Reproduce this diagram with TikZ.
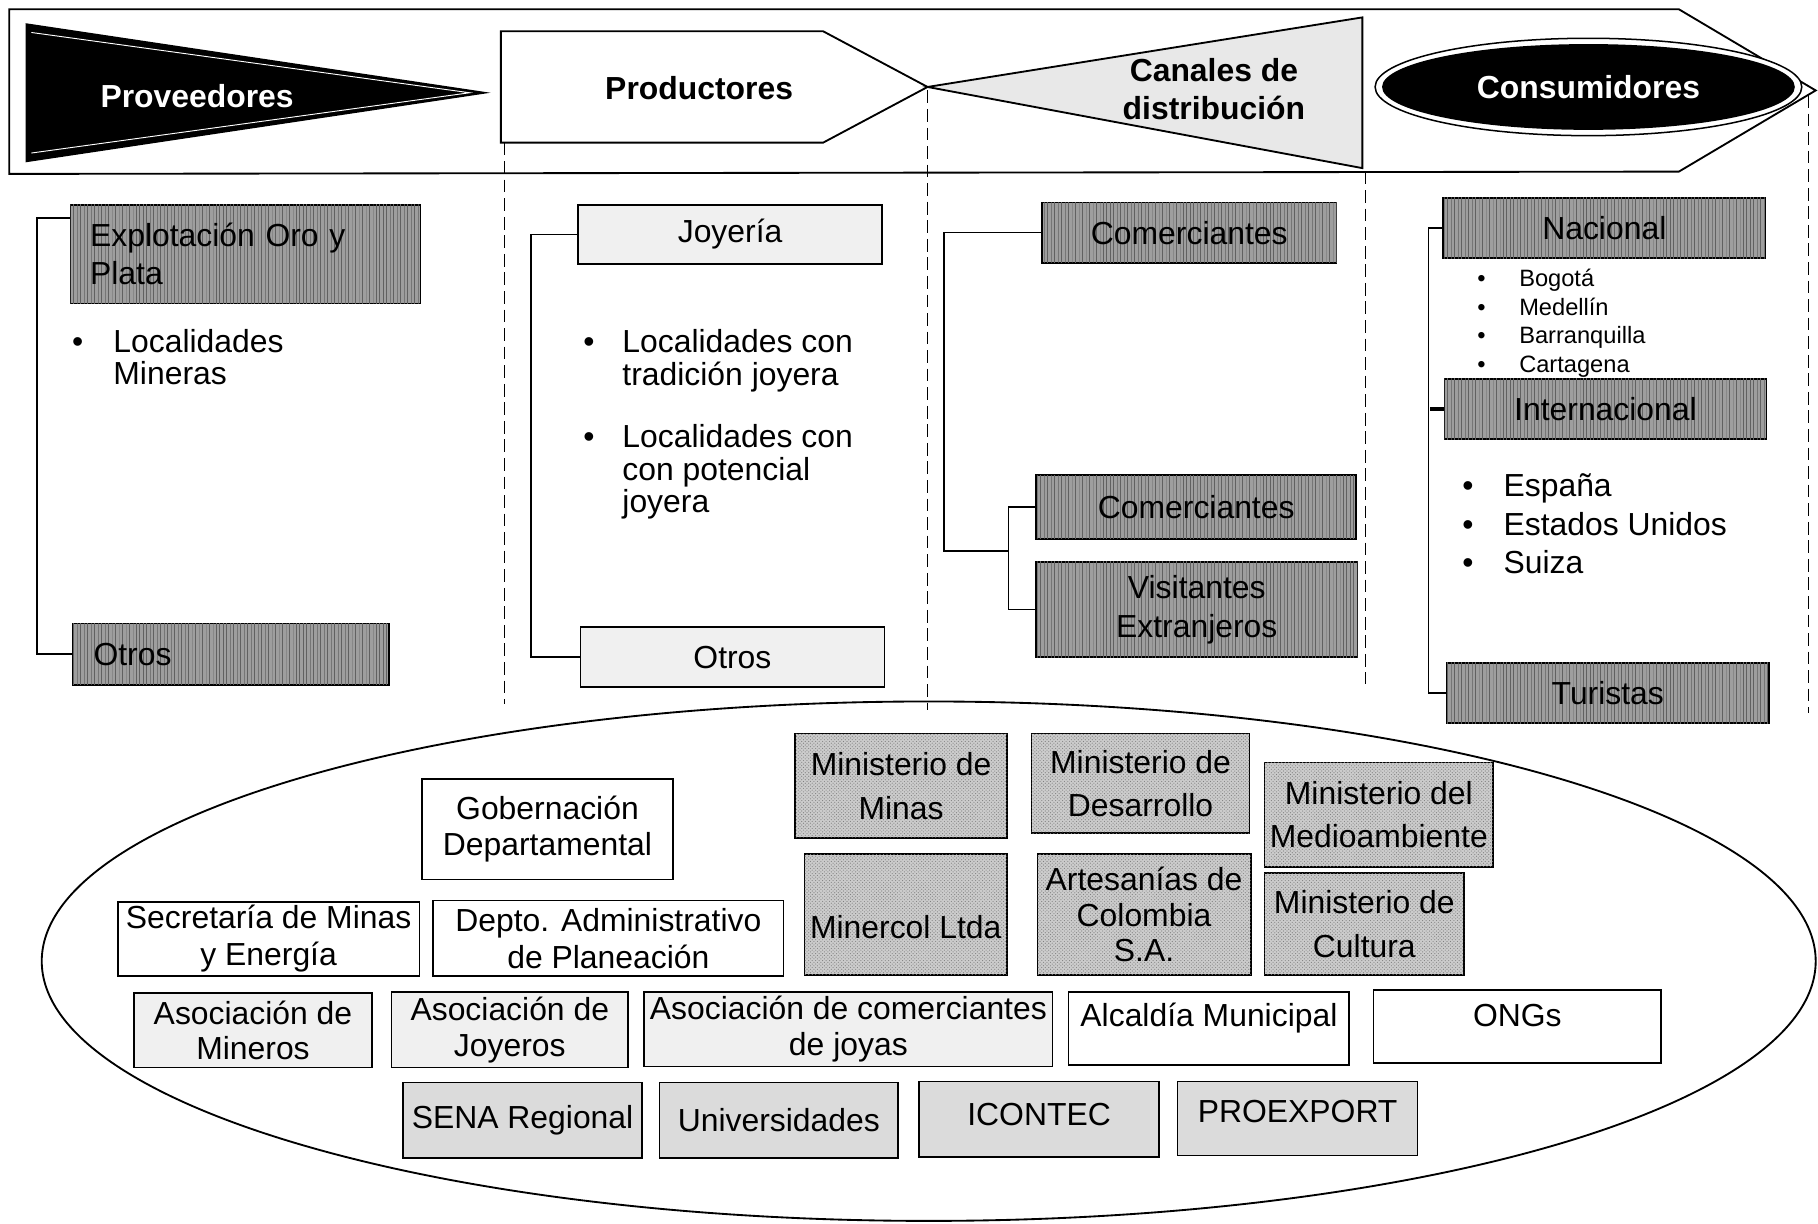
\documentclass[tikz,border=0pt]{standalone}
\usepackage{fontspec}
\setmainfont{Liberation Sans}
\usetikzlibrary{patterns,calc}
\begin{document}
\begin{tikzpicture}[x=1pt,y=-1pt,
  every node/.style={font=\fontsize{27.5}{31}\selectfont, inner sep=0pt},
  bx/.style={draw, line width=1.4pt, anchor=north west, align=center},
  dark/.style={bx, fill=black!38, postaction={pattern=vertical lines, pattern color=black!62}},
  light/.style={bx, fill=black!6},
  mid/.style={bx, fill=black!14},
  chk/.style={bx, fill=black!20, postaction={pattern=crosshatch dots, pattern color=black!50}},
  wht/.style={bx, fill=white},
  conn/.style={line width=1.3pt},
  sepline/.style={line width=1.1pt, dash pattern=on 11pt off 5pt},
  hdr/.style={font=\fontsize{27.5}{33}\selectfont\bfseries, align=center},
]
\useasboundingbox (0,0) rectangle (1568,1055);

% ---------- header band ----------
\draw[line width=1.6pt] (8,8) -- (1448,8) -- (1566,78) -- (1448,148) -- (8,150) -- cycle;
% Proveedores
\fill (22,20) -- (423,80) -- (22,140) -- cycle;
\draw[white, line width=0.8pt] (27,28) -- (405,80) -- (27,132);
% Productores
\draw[line width=1.6pt, fill=white] (432,27) -- (710,27) -- (800,75) -- (710,123) -- (432,123) -- cycle;
% Canales
\draw[line width=1.6pt, fill=black!9] (800,75) -- (1175,15) -- (1175,145) -- cycle;
% Consumidores
\draw[line width=1.3pt, fill=white] (1370,75) ellipse (184 and 42);
\fill (1370,75) ellipse (178 and 37);

\node[hdr, text=white] (prov) at (170,83) {Proveedores};
\node[hdr, text=white] (cons) at (1370,75) {Consumidores};
\node[hdr] (prod) at (603,76) {Productores};
\node[hdr] (canal) at (1047,77) {Canales de\\distribución};

% ---------- separators ----------
\draw[sepline] (435,123) -- (435,607);
\draw[sepline] (800,78) -- (800,612);
\draw[sepline] (1178,148) -- (1178,590);
\draw[sepline] (1560,82) -- (1560,615);

% ---------- column 1 ----------
\node[dark, minimum width=302pt, minimum height=85pt, text width=268pt, align=left,
      font=\fontsize{27.5}{33}\selectfont] (expl) at (60,176) {Explotación Oro y\\Plata};
\node[dark, minimum width=273pt, minimum height=53pt, text width=237pt, align=left] (ot1) at (62,537) {Otros};
\node[anchor=base west, font=\fontsize{27.5}{27}\selectfont] (lm) at (62,304)
  {\begin{tabular}[t]{@{}l@{\hspace{26pt}}l@{}}•&Localidades\\&Mineras\end{tabular}};
\draw[conn] ($(expl.north west)+(0,12)$) -- ++(-28,0) |- (ot1.west);

% ---------- column 2 ----------
\node[light, minimum width=262pt, minimum height=51pt] (joy) at (498,176) {Joyería};
\node[light, minimum width=262pt, minimum height=52pt] (ot2) at (500,540) {Otros};
\node[anchor=base west, font=\fontsize{27.5}{27}\selectfont] (lj) at (503,304)
  {\begin{tabular}[t]{@{}l@{\hspace{24pt}}l@{}}•&Localidades con\\&tradición joyera\\[26pt]
   •&Localidades con\\&con potencial\\&joyera\end{tabular}};
\draw[conn] (joy.west) -- ++(-40,0) |- (ot2.west);

% ---------- column 3 ----------
\node[dark, minimum width=254pt, minimum height=52pt] (com1) at (898,174) {Comerciantes};
\node[dark, minimum width=276pt, minimum height=55pt] (com2) at (893,409) {Comerciantes};
\node[dark, minimum width=277pt, minimum height=82pt, font=\fontsize{27.5}{34}\selectfont] (vis) at (893,484) {Visitantes\\Extranjeros};
\coordinate (j3) at ($(com2.west)!0.43!(vis.west)+(-23,0)$);
\draw[conn] (com2.west) -- ++(-23,0) |- (vis.west);
\draw[conn] (com1.west) -- ++(-84,0) |- (j3);

% ---------- column 4 ----------
\node[dark, minimum width=278pt, minimum height=52pt] (nac) at (1244,170) {Nacional};
\node[dark, minimum width=278pt, minimum height=52pt] (int) at (1245,326) {Internacional};
\node[dark, minimum width=278pt, minimum height=52pt] (tur) at (1247,571) {Turistas};
\node[anchor=base west, font=\fontsize{20.4}{24.7}\selectfont] (ln) at (1274,247)
  {\begin{tabular}[t]{@{}l@{\hspace{29pt}}l@{}}•&Bogotá\\•&Medellín\\•&Barranquilla\\•&Cartagena\end{tabular}};
\node[anchor=base west, font=\fontsize{27.5}{33.5}\selectfont] (li) at (1261,428)
  {\begin{tabular}[t]{@{}l@{\hspace{26pt}}l@{}}•&España\\•&Estados Unidos\\•&Suiza\end{tabular}};
\draw[conn] (nac.west) -- ++(-12,0) |- (tur.west);
\draw[line width=3.5pt] (int.west) -- ++(-12,0);

% ---------- institutions ellipse ----------
\draw[line width=1.6pt] (801,829) ellipse (765 and 224);

\node[chk, minimum width=183pt, minimum height=90pt, font=\fontsize{27.5}{38}\selectfont] (minmin) at (685,632) {Ministerio de\\Minas};
\node[chk, minimum width=188pt, minimum height=86pt, font=\fontsize{27.5}{37}\selectfont] (mindes) at (889,632) {Ministerio de\\Desarrollo};
\node[chk, minimum width=197pt, minimum height=90pt, font=\fontsize{27.5}{37}\selectfont] (minmed) at (1090,657) {Ministerio del\\Medioambiente};
\node[wht, minimum width=217pt, minimum height=87pt] (gob) at (363,671) {Gobernación\\Departamental};
\node[chk, minimum width=175pt, minimum height=104pt, text height=42pt, text depth=0pt] (mincol) at (693,736) {Minercol Ltda};
\node[chk, minimum width=184pt, minimum height=104pt] (art) at (894,736) {Artesanías de\\Colombia\\S.A.};
\node[chk, minimum width=172pt, minimum height=88pt, font=\fontsize{27.5}{38}\selectfont] (mincul) at (1090,752) {Ministerio de\\Cultura};
\node[wht, minimum width=260pt, minimum height=64pt, font=\fontsize{27.5}{32}\selectfont] (sec) at (101,777) {Secretaría de Minas\\y Energía};
\node[wht, minimum width=302pt, minimum height=65pt, font=\fontsize{27.5}{32}\selectfont] (depto) at (373,776) {Depto. Administrativo\\de Planeación};
\node[light, minimum width=205pt, minimum height=64pt] (asm) at (115,856) {Asociación de\\Mineros};
\node[light, minimum width=204pt, minimum height=65pt] (asj) at (337,855) {Asociación de\\Joyeros};
\node[light, minimum width=352pt, minimum height=64pt] (asc) at (555,855) {Asociación de comerciantes\\de joyas};
\node[wht, minimum width=242pt, minimum height=63pt, text height=20pt, text depth=23pt] (alc) at (921,855) {Alcaldía Municipal};
\node[wht, minimum width=248pt, minimum height=63pt, text height=20pt, text depth=19pt] (ong) at (1184,853) {ONGs};
\node[mid, minimum width=206pt, minimum height=65pt] (sena) at (347,933) {SENA Regional};
\node[mid, minimum width=206pt, minimum height=65pt] (univ) at (568,933) {Universidades};
\node[mid, minimum width=207pt, minimum height=65pt, text height=20pt, text depth=9pt] (icon) at (792,932) {ICONTEC};
\node[mid, minimum width=207pt, minimum height=64pt, text height=20pt, text depth=14pt] (proex) at (1015,932) {PROEXPORT};
\end{tikzpicture}
\end{document}
